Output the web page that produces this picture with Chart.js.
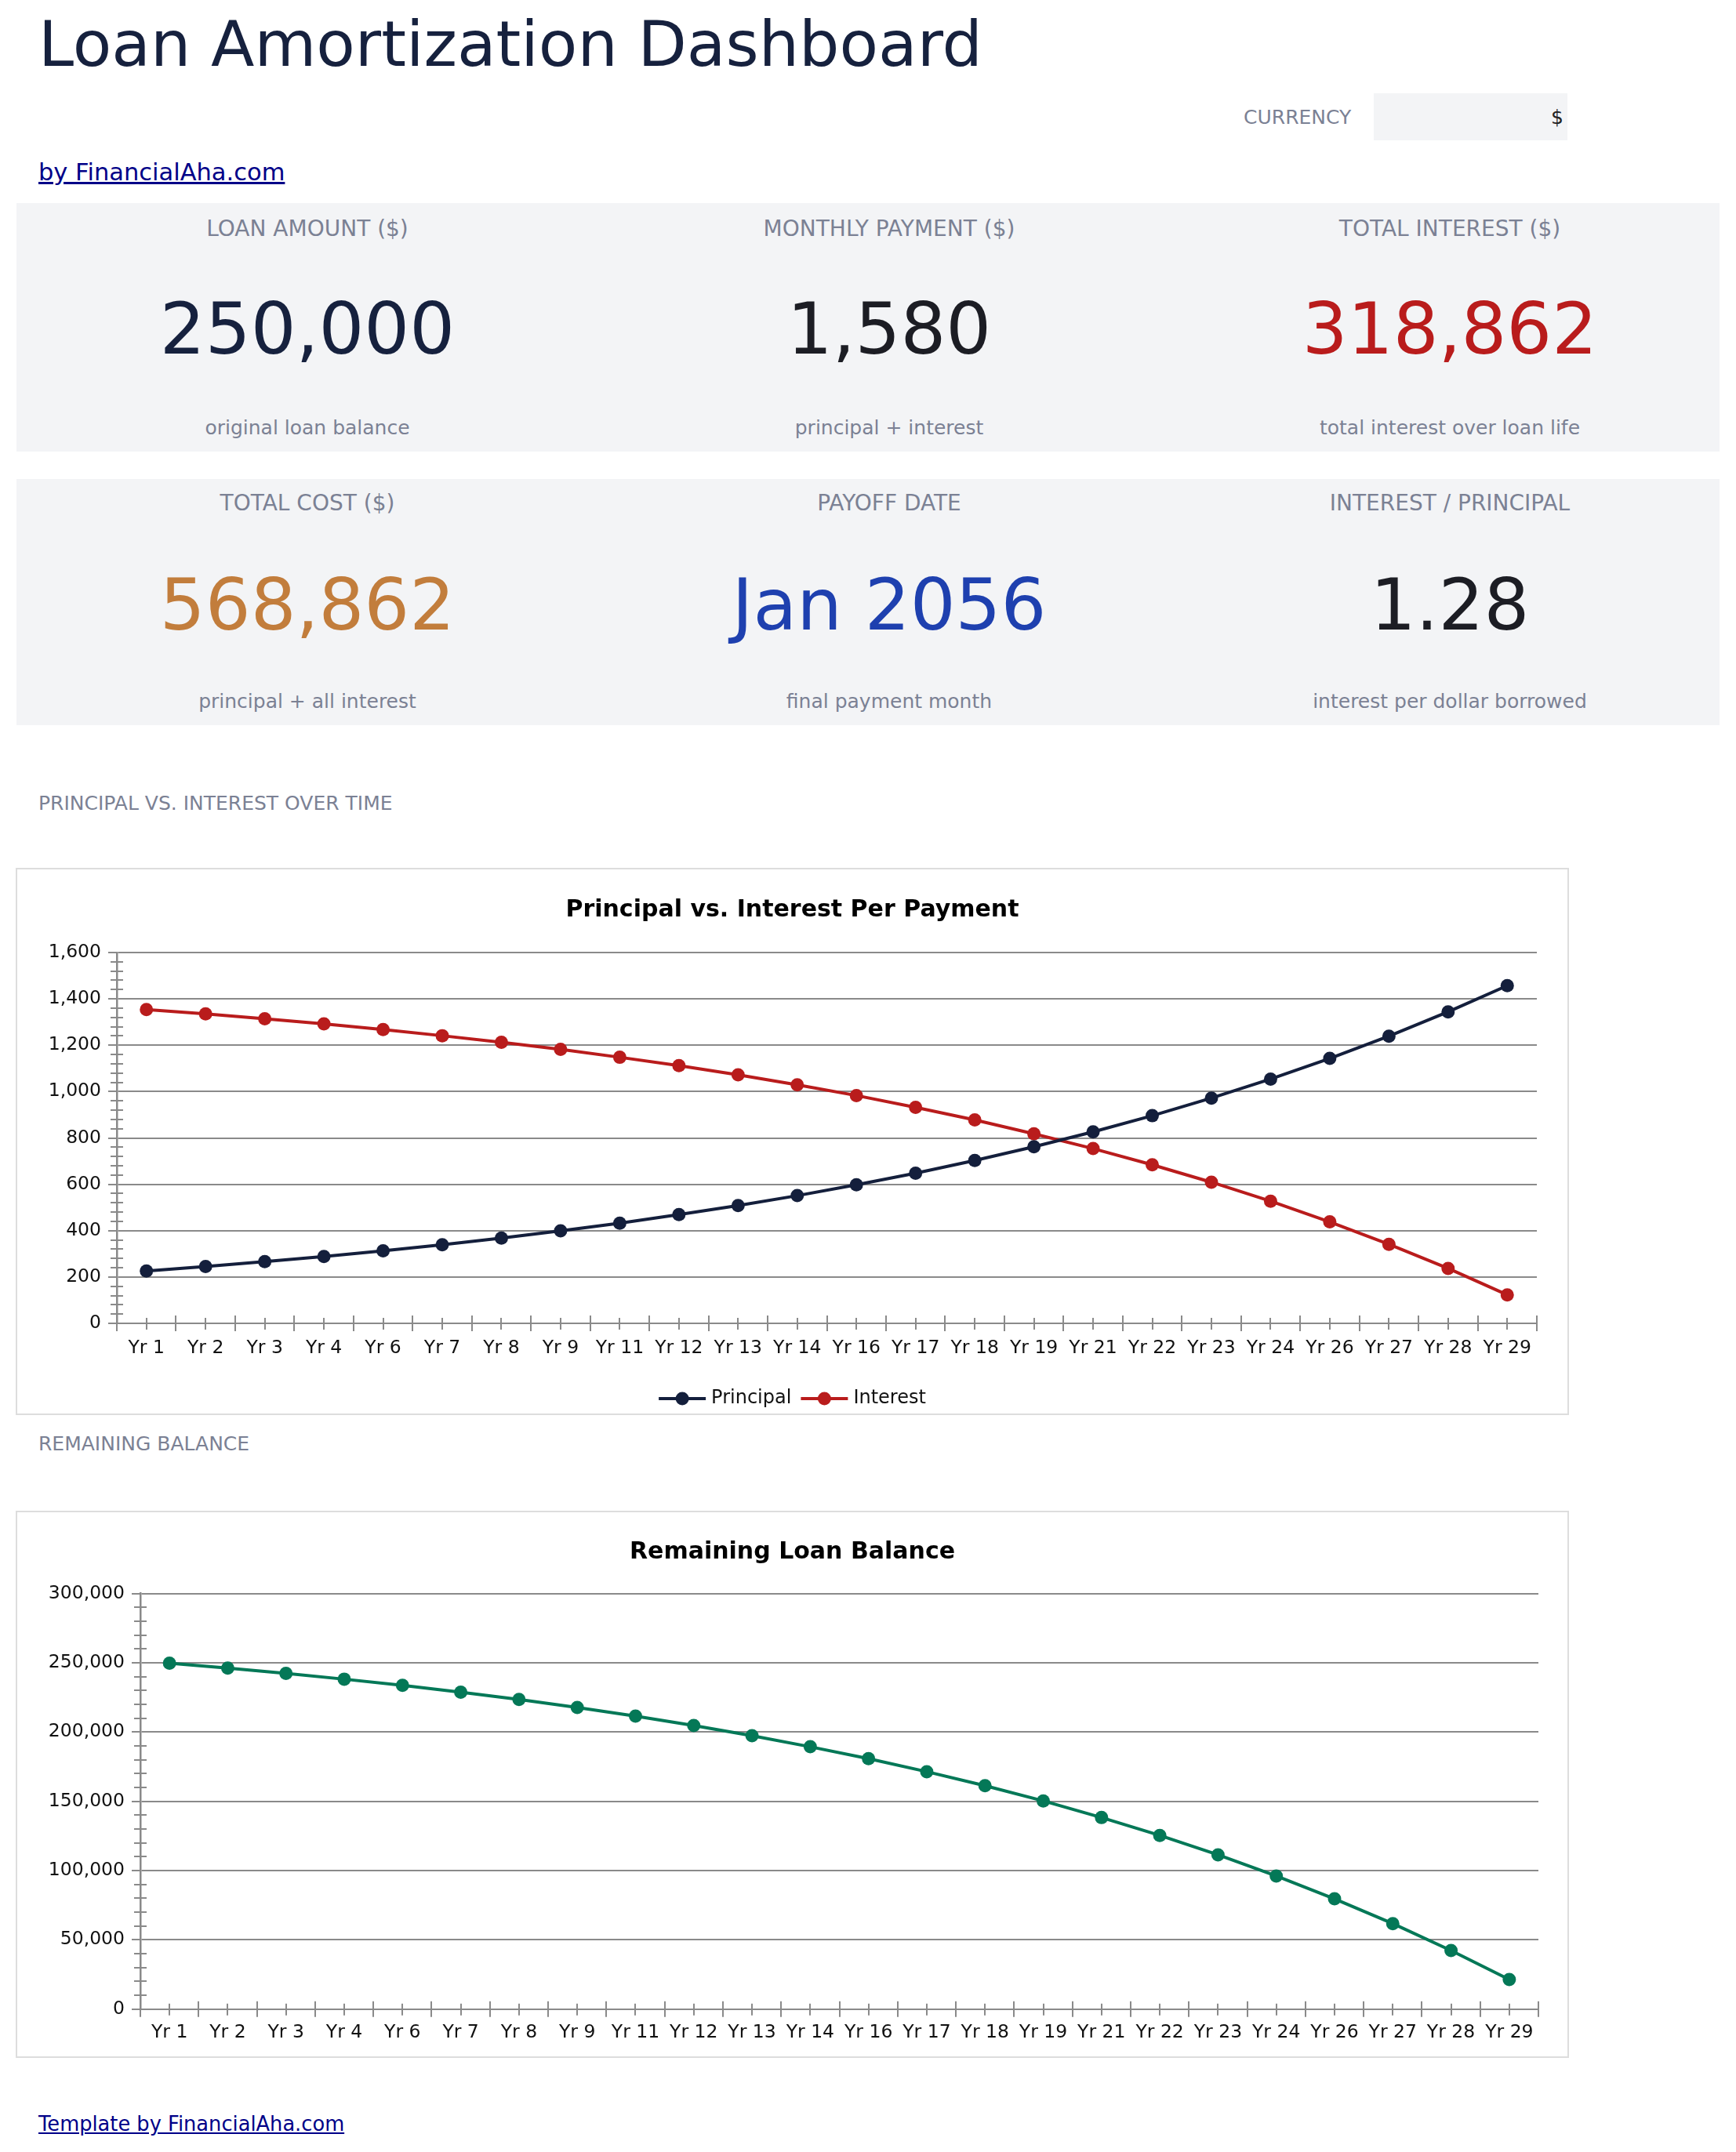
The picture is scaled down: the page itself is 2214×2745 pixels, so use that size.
<!DOCTYPE html>
<html>
<head>
<meta charset="utf-8">
<title>Loan Amortization Dashboard</title>
<script src="https://cdn.jsdelivr.net/npm/chart.js@4.4.1/dist/chart.umd.min.js"></script>
<style>
  html, body { margin: 0; padding: 0; background: #fff; }
  body { width: 2214px; height: 2745px; position: relative; overflow: hidden; font-family: "DejaVu Sans", sans-serif; }
  .abs { position: absolute; line-height: 1; white-space: nowrap; }
  .title { left: 49px; top: 16px; font-size: 81px; color: #16213e; }
  .muted { color: #7b8194; }
  a { color: #000088; text-decoration: underline; }
  .currency-box { position: absolute; left: 1752px; top: 119px; width: 247px; height: 60px; background: #f3f4f6; }
  .panel { position: absolute; left: 21px; width: 2172px; background: #f3f4f6; }
  .cell { position: absolute; top: 0; height: 100%; }
  .cell div { position: absolute; left: 0; right: 0; text-align: center; line-height: 1; white-space: nowrap; }
  .lbl { font-size: 28px; color: #7b8194; }
  .val { font-size: 91px; }
  .sub { font-size: 25px; color: #7b8194; }
  .chartbox { position: absolute; left: 20px; width: 1981px; height: 698px; border: 2px solid #dddddd; box-sizing: border-box; background: #fff; }
  .chartbox .inner { position: relative; width: 1977px; height: 694px; }
</style>
</head>
<body>

<div class="abs title">Loan Amortization Dashboard</div>

<div class="abs muted" style="left:1586px; top:137px; font-size:25px;">CURRENCY</div>
<div class="currency-box"></div>
<div class="abs" style="left:1752px; width:242px; text-align:right; top:137px; font-size:25px; color:#222;">$</div>

<div class="abs" style="left:49px; top:205px; font-size:30.5px;"><a href="#">by FinancialAha.com</a></div>

<!-- KPI row 1 -->
<div class="panel" style="top:259px; height:317px;">
  <div class="cell" style="left:0; width:742px;">
    <div class="lbl" style="top:19px;">LOAN AMOUNT ($)</div>
    <div class="val" style="top:115px; color:#16213e;">250,000</div>
    <div class="sub" style="top:274px;">original loan balance</div>
  </div>
  <div class="cell" style="left:742px; width:742px;">
    <div class="lbl" style="top:19px;">MONTHLY PAYMENT ($)</div>
    <div class="val" style="top:115px; color:#1c1d24;">1,580</div>
    <div class="sub" style="top:274px;">principal + interest</div>
  </div>
  <div class="cell" style="left:1484px; width:688px;">
    <div class="lbl" style="top:19px;">TOTAL INTEREST ($)</div>
    <div class="val" style="top:115px; color:#b91c1c;">318,862</div>
    <div class="sub" style="top:274px;">total interest over loan life</div>
  </div>
</div>

<!-- KPI row 2 -->
<div class="panel" style="top:611px; height:314px;">
  <div class="cell" style="left:0; width:742px;">
    <div class="lbl" style="top:17px;">TOTAL COST ($)</div>
    <div class="val" style="top:115px; color:#c27d3c;">568,862</div>
    <div class="sub" style="top:271px;">principal + all interest</div>
  </div>
  <div class="cell" style="left:742px; width:742px;">
    <div class="lbl" style="top:17px;">PAYOFF DATE</div>
    <div class="val" style="top:115px; color:#1e40af;">Jan 2056</div>
    <div class="sub" style="top:271px;">final payment month</div>
  </div>
  <div class="cell" style="left:1484px; width:688px;">
    <div class="lbl" style="top:17px;">INTEREST / PRINCIPAL</div>
    <div class="val" style="top:115px; color:#1c1d24;">1.28</div>
    <div class="sub" style="top:271px;">interest per dollar borrowed</div>
  </div>
</div>

<div class="abs muted" style="left:49px; top:1012px; font-size:25px;">PRINCIPAL VS. INTEREST OVER TIME</div>
<div class="chartbox" style="top:1107px;"><div class="inner"><canvas id="piChart"></canvas></div></div>

<div class="abs muted" style="left:49px; top:1829px; font-size:25px;">REMAINING BALANCE</div>
<div class="chartbox" style="top:1927px;"><div class="inner"><canvas id="balanceChart"></canvas></div></div>

<div class="abs" style="left:49px; top:2697px; font-size:25.7px;"><a href="#">Template by FinancialAha.com</a></div>

<script>
// data (one point every 15 payments)
const years = ['Yr 1', 'Yr 2', 'Yr 3', 'Yr 4', 'Yr 6', 'Yr 7', 'Yr 8', 'Yr 9', 'Yr 11', 'Yr 12', 'Yr 13', 'Yr 14',
  'Yr 16', 'Yr 17', 'Yr 18', 'Yr 19', 'Yr 21', 'Yr 22', 'Yr 23', 'Yr 24', 'Yr 26', 'Yr 27', 'Yr 28', 'Yr 29'];
const principalPerPayment = [226, 245, 266, 288, 313, 339, 368, 399, 432, 469, 508, 551,
  598, 648, 703, 762, 826, 896, 972, 1054, 1143, 1239, 1344, 1457];
const interestPerPayment = [1354, 1335, 1314, 1292, 1268, 1241, 1213, 1182, 1148, 1112, 1072, 1029,
  983, 932, 878, 818, 754, 684, 609, 527, 438, 341, 237, 123];
const remainingBalance = [249800, 246200, 242400, 238200, 233700, 228800, 223500, 217800, 211500, 204700, 197400, 189400,
  180800, 171400, 161300, 150300, 138300, 125400, 111400, 96100, 79600, 61700, 42300, 21300];

const GRID = '#8a8a8a';
const NAVY = '#141f3c';
const RED = '#b91c1c';
const GREEN = '#047857';
const TICK_FONT = { family: "'DejaVu Sans', sans-serif", size: 23.5 };

Chart.defaults.font.family = "'DejaVu Sans', sans-serif";
Chart.defaults.color = '#111';

// minor ticks on the value axis, category ticks on the x axis (spreadsheet look)
const axisTicks = {
  id: 'axisTicks',
  beforeDatasetsDraw(chart) {
    const { ctx, chartArea } = chart;
    const x = chart.scales.x, y = chart.scales.y;
    ctx.save();
    ctx.strokeStyle = GRID;
    ctx.lineWidth = 2;
    ctx.beginPath();
    const t = y.ticks;
    for (let i = 0; i < t.length - 1; i++) {
      for (let k = 1; k < 5; k++) {
        const py = Math.round(y.getPixelForValue(t[i].value + (t[i + 1].value - t[i].value) * k / 5));
        ctx.moveTo(chartArea.left - 8, py);
        ctx.lineTo(chartArea.left + 8, py);
      }
    }
    const base = chartArea.bottom;
    for (let i = 0; i <= years.length; i++) {
      const px = Math.round(x.getPixelForValue(i - 0.5));
      ctx.moveTo(px, base - 10);
      ctx.lineTo(px, base + 10);
    }
    for (let i = 0; i < years.length; i++) {
      const px = Math.round(x.getPixelForValue(i));
      ctx.moveTo(px, base - 7);
      ctx.lineTo(px, base + 8);
    }
    ctx.stroke();
    ctx.restore();
  }
};

// legend drawn as line + marker like the original
const lineLegend = {
  id: 'lineLegend',
  afterDraw(chart, args, opts) {
    if (!opts.show) return;
    const ctx = chart.ctx;
    ctx.save();
    ctx.font = "24px 'DejaVu Sans', sans-serif";
    const items = chart.data.datasets.map(ds => ({
      text: ds.label, color: ds.borderColor, w: 67 + ctx.measureText(ds.label).width
    }));
    const gap = 12;
    const total = items.reduce((s, it) => s + it.w, 0) + gap * (items.length - 1);
    let x = chart.width / 2 - total / 2;
    const y = opts.y;
    items.forEach(it => {
      ctx.strokeStyle = it.color;
      ctx.lineWidth = 4;
      ctx.beginPath();
      ctx.moveTo(x, y);
      ctx.lineTo(x + 60, y);
      ctx.stroke();
      ctx.fillStyle = it.color;
      ctx.beginPath();
      ctx.arc(x + 30, y, 8.5, 0, Math.PI * 2);
      ctx.fill();
      ctx.fillStyle = '#111';
      ctx.textBaseline = 'middle';
      ctx.textAlign = 'left';
      ctx.fillText(it.text, x + 67, y);
      x += it.w + gap;
    });
    ctx.restore();
  }
};

function lineSet(label, data, color) {
  return {
    label: label,
    data: data,
    borderColor: color,
    backgroundColor: color,
    borderWidth: 4,
    pointRadius: 8.5,
    pointBorderWidth: 0,
    pointBackgroundColor: color,
    tension: 0
  };
}

function chartOptions(cfg) {
  return {
    responsive: true,
    maintainAspectRatio: false,
    animation: false,
    layout: { padding: 0 },
    plugins: {
      legend: { display: false },
      tooltip: { enabled: false },
      title: {
        display: true,
        text: cfg.title,
        color: '#000',
        font: { size: 30, weight: 'bold' },
        padding: { top: cfg.titleTop, bottom: cfg.titleBottom }
      },
      lineLegend: { show: cfg.legend, y: cfg.legendY }
    },
    scales: {
      x: {
        offset: true,
        grid: { display: false, drawTicks: false },
        border: { display: true, color: GRID, width: 2 },
        ticks: { padding: cfg.xPad, font: TICK_FONT, color: '#111', maxRotation: 0, autoSkip: false },
        afterFit: s => { s.height = cfg.xHeight; }
      },
      y: {
        min: 0,
        max: cfg.max,
        ticks: { stepSize: cfg.step, padding: 9, font: TICK_FONT, color: '#111' },
        grid: { color: GRID, lineWidth: 2, tickLength: 11, drawTicks: true },
        border: { color: GRID, width: 2.5 },
        afterFit: s => { s.width = cfg.yWidth; }
      },
      // empty right-hand axis that only reserves the blank margin, so the title stays centred on the box
      yRight: {
        type: 'linear',
        position: 'right',
        grid: { display: false, drawTicks: false },
        border: { display: false },
        ticks: { display: false },
        afterFit: s => { s.width = cfg.right; }
      }
    }
  };
}

new Chart(document.getElementById('piChart'), {
  type: 'line',
  data: {
    labels: years,
    datasets: [
      lineSet('Principal', principalPerPayment, NAVY),
      lineSet('Interest', interestPerPayment, RED)
    ]
  },
  options: chartOptions({
    title: 'Principal vs. Interest Per Payment',
    right: 39, titleTop: 34, titleBottom: 36,
    xHeight: 115, xPad: 18, yWidth: 127,
    max: 1600, step: 200,
    legend: true, legendY: 675
  }),
  plugins: [axisTicks, lineLegend]
});

new Chart(document.getElementById('balanceChart'), {
  type: 'line',
  data: {
    labels: years,
    datasets: [lineSet('Balance', remainingBalance, GREEN)]
  },
  options: chartOptions({
    title: 'Remaining Loan Balance',
    right: 37, titleTop: 33.5, titleBottom: 34.2,
    xHeight: 60.3, xPad: 16, yWidth: 157,
    max: 300000, step: 50000,
    legend: false, legendY: 0
  }),
  plugins: [axisTicks, lineLegend]
});
</script>
</body>
</html>
